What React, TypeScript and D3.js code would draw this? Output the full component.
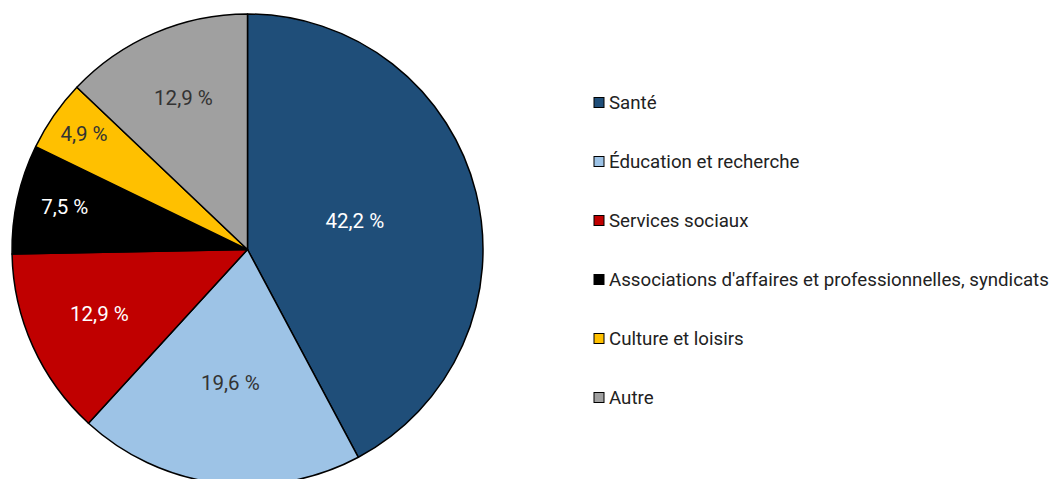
import React from "react";
import * as d3 from "d3";

const categories = [
  "Santé",
  "Éducation et recherche",
  "Services sociaux",
  "Associations d'affaires et professionnelles, syndicats",
  "Culture et loisirs",
  "Autre",
];
const values = [42.2, 19.6, 12.9, 7.5, 4.9, 12.9];
const labels = ["42,2 %", "19,6 %", "12,9 %", "7,5 %", "4,9 %", "12,9 %"];
const colors = ["#1f4e79", "#9dc3e6", "#c00000", "#000000", "#ffc000", "#a0a0a0"];
const labelColors = ["#ffffff", "#333333", "#ffffff", "#ffffff", "#333333", "#333333"];

const W = 1054;
const H = 479;
const cx = 247.5;
const cy = 249.5;
const R = 235.5;
const FONT = "Roboto, 'Liberation Sans', sans-serif";

export default function App() {
  const pie = d3.pie<number>().sort(null).value((d) => d);
  const arcs = pie(values);
  const arc = d3.arc<d3.PieArcDatum<number>>().innerRadius(0).outerRadius(R);
  // Excel-like "best fit": larger slices put their label nearer the centre
  const labelRadius = d3
    .scaleLinear()
    .domain([4.9, 12.9, 19.6, 42.2])
    .range([0.845, 0.69, 0.58, 0.47])
    .clamp(true);

  const legendX = 594;
  const legendY = d3.scaleLinear().domain([0, 5]).range([102.5, 397.5]);

  return (
    <svg
      width={W}
      height={H}
      style={{ position: "absolute", left: 0, top: 0, background: "#fff" }}
      fontFamily={FONT}
    >
      <g transform={`translate(${cx},${cy})`}>
        {arcs.map((a, i) => (
          <path key={i} d={arc(a) || ""} fill={colors[i]} stroke="#000" strokeWidth={1.5} strokeLinejoin="round" />
        ))}
        {arcs.map((a, i) => {
          const mid = (a.startAngle + a.endAngle) / 2;
          const r = R * labelRadius(values[i]);
          const x = Math.sin(mid) * r;
          const y = -Math.cos(mid) * r;
          return (
            <text
              key={i}
              x={x}
              y={y}
              dy="-0.1em"
              textAnchor="middle"
              dominantBaseline="central"
              fontSize={20.5}
              fill={labelColors[i]}
            >
              {labels[i]}
            </text>
          );
        })}
      </g>
      <g>
        {categories.map((c, i) => (
          <g key={i} transform={`translate(${legendX},${legendY(i)})`}>
            <rect x={0} y={-5} width={10} height={10} fill={colors[i]} stroke="#000" strokeWidth={1} />
            <text
              x={15}
              y={0}
              dominantBaseline="central"
              fontSize={18.7}
              fill="#222"
            >
              {c}
            </text>
          </g>
        ))}
      </g>
    </svg>
  );
}
